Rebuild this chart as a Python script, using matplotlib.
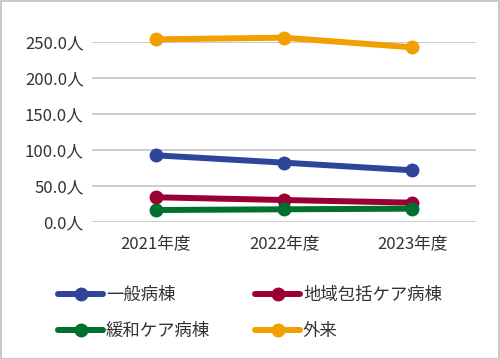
import matplotlib
matplotlib.use('Agg')
import matplotlib.pyplot as plt
from matplotlib.patches import Rectangle

plt.rcParams['font.family'] = ['Noto Sans CJK JP', 'DejaVu Sans']

years = ['2021年度', '2022年度', '2023年度']
general = [92.2, 82.0, 71.4]
community = [33.9, 30.1, 26.4]
palliative = [16.2, 17.2, 18.1]
outpatient = [253.3, 255.6, 242.2]
yticks = [0, 50, 100, 150, 200, 250]

series = [
    ('一般病棟', general, '#2E4599'),
    ('地域包括ケア病棟', community, '#990033'),
    ('緩和ケア病棟', palliative, '#00702E'),
    ('外来', outpatient, '#F0A000'),
]

TEXT = '#333333'
GRID = '#C8C8C8'

fig = plt.figure(figsize=(5.0, 3.59), dpi=100, facecolor='white')
ax = fig.add_axes([0.184, 0.3825, 0.768, 0.5013])

x = range(len(years))
handles = []
for name, vals, col in series:
    h, = ax.plot(x, vals, color=col, linewidth=4.3, marker='o', markersize=9,
                 solid_capstyle='round', clip_on=False, label=name, zorder=3)
    handles.append(h)

ax.set_xlim(-0.5, 2.5)
ax.set_ylim(0, 250)
ax.set_yticks(yticks)
ax.set_yticklabels([f'{v:.1f}人' for v in yticks])
ax.set_xticks(list(x))
ax.set_xticklabels(years)
ax.grid(axis='y', color=GRID, linewidth=1.3)
ax.set_axisbelow(True)
for s in ax.spines.values():
    s.set_visible(False)
ax.tick_params(length=0, labelsize=12, colors=TEXT, pad=6)
ax.tick_params(axis='x', pad=10)

# legend fills row by row in the reference
order = [handles[0], handles[2], handles[1], handles[3]]
leg = fig.legend(handles=order, loc='lower left', bbox_to_anchor=(0.085, 0.01),
                 ncol=2, frameon=False, fontsize=12.5, handlelength=2.6,
                 handletextpad=0.15, columnspacing=2.6, labelspacing=1.0)
for t in leg.get_texts():
    t.set_color(TEXT)

fig.patches.append(Rectangle((0.001, 0.001), 0.997, 0.996, transform=fig.transFigure,
                             fill=False, edgecolor='#BFBFBF', linewidth=1.2))

plt.savefig('out.png', dpi=100, facecolor='white')
plt.close()
